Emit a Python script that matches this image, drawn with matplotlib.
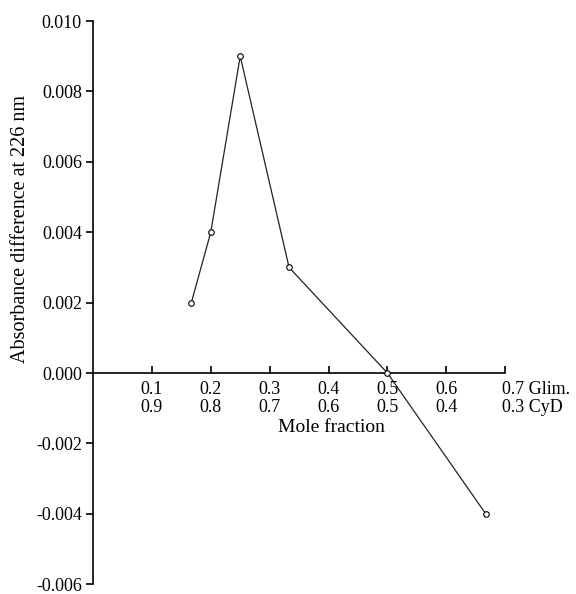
import matplotlib
matplotlib.use("Agg")
import matplotlib.pyplot as plt
import matplotlib.transforms as mtransforms

plt.rcParams['font.family'] = ['Liberation Serif', 'DejaVu Serif']
plt.rcParams['axes.unicode_minus'] = False

# mole fraction of Glim. and absorbance difference
glim = [0.167, 0.2, 0.25, 0.333, 0.5, 0.667]
absdiff = [0.002, 0.004, 0.009, 0.003, 0.0, -0.004]

xticks = [0.1, 0.2, 0.3, 0.4, 0.5, 0.6, 0.7]
glim_labels = ['0.1', '0.2', '0.3', '0.4', '0.5', '0.6', '0.7 Glim.']
cyd_labels = ['0.9', '0.8', '0.7', '0.6', '0.5', '0.4', '0.3 CyD']
yticks = [-0.006, -0.004, -0.002, 0.0, 0.002, 0.004, 0.006, 0.008, 0.010]

fig = plt.figure(figsize=(5.76, 5.94), dpi=100)
ax = fig.add_axes([0.1615, 0.0165, 0.877 - 0.1615, 0.9646 - 0.0165])

ax.plot(glim, absdiff, color='#222222', lw=0.9, marker='o', ms=4,
        mfc='white', mec='black', mew=0.8, zorder=3)

ax.set_xlim(0, 0.7)
ax.set_ylim(-0.006, 0.010)
ax.spines['top'].set_visible(False)
ax.spines['right'].set_visible(False)
ax.spines['bottom'].set_position(('data', 0))
ax.spines['left'].set_linewidth(1.2)
ax.spines['bottom'].set_linewidth(1.2)

ax.set_yticks(yticks)
ax.set_yticklabels(['%.3f' % v for v in yticks])
ax.tick_params(axis='y', direction='out', length=5, width=1.2, labelsize=13, pad=3)

ax.set_xticks(xticks)
ax.set_xticklabels([])
ax.tick_params(axis='x', direction='in', length=5, width=1.2)

# two rows of composition labels under the x axis
for x, g, c in zip(xticks, glim_labels, cyd_labels):
    ha = 'left' if 'Glim' in g else 'center'
    dx = -2 if ha == 'left' else 0
    ax.annotate(g, (x, 0), xytext=(dx, -6), textcoords='offset points',
                ha=ha, va='top', fontsize=13)
    ax.annotate(c, (x, 0), xytext=(dx, -19), textcoords='offset points',
                ha=ha, va='top', fontsize=13)
ax.annotate('Mole fraction', (0.405, 0), xytext=(0, -33), textcoords='offset points',
            ha='center', va='top', fontsize=14)

ax.text(-0.177, 0.0041, 'Absorbance difference at 226 nm', rotation=90,
        transform=mtransforms.blended_transform_factory(ax.transAxes, ax.transData),
        ha='center', va='center', fontsize=14.5)

fig.savefig('out.png', dpi=100)
